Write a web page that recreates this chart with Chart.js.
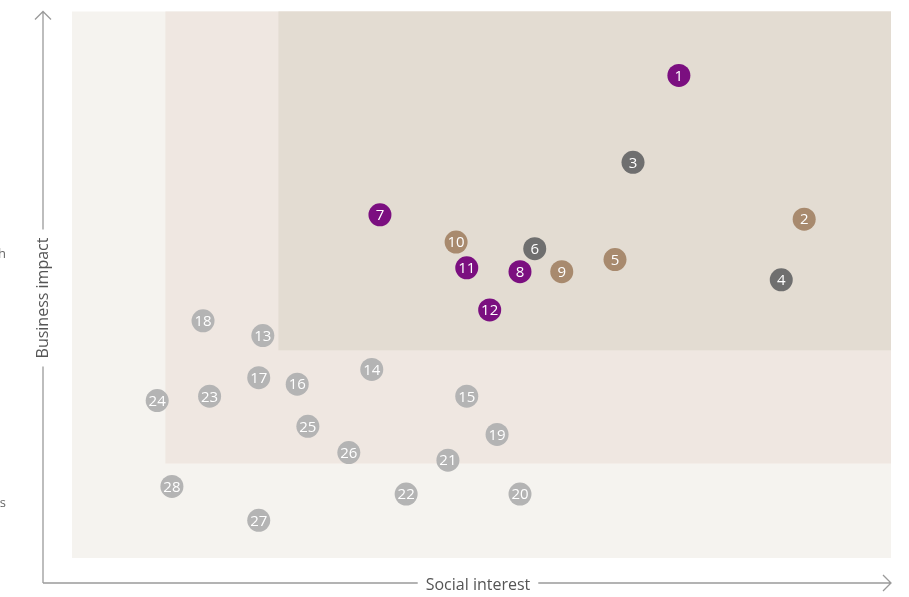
<!DOCTYPE html>
<html>
<head>
<meta charset="utf-8">
<script src="https://cdn.jsdelivr.net/npm/chart.js@4"></script>
<style>
  html, body { margin: 0; padding: 0; background: #ffffff; }
  #box { width: 909px; height: 597px; }
</style>
</head>
<body>
<div id="box"><canvas id="grafico"></canvas></div>
<script>
// temi per gruppo (x = social interest, y = business impact, 0-100)
const temiViola   = [1, 7, 8, 11, 12];
const xViola      = [74.1, 37.6, 54.7, 48.2, 51.0];
const yViola      = [88.3, 62.8, 52.4, 53.1, 45.4];

const temiMarrone = [2, 5, 9, 10];
const xMarrone    = [89.4, 66.3, 59.8, 46.9];
const yMarrone    = [62.0, 54.6, 52.4, 57.8];

const temiGrigio  = [3, 4, 6];
const xGrigio     = [68.5, 86.6, 56.5];
const yGrigio     = [72.4, 50.9, 56.6];

const temiChiari  = [13, 14, 15, 16, 17, 18, 19, 20, 21, 22, 23, 24, 25, 26, 27, 28];
const xChiari     = [23.3, 36.6, 48.2, 27.5, 22.8, 16.0, 51.9, 54.7, 45.9, 40.8, 16.8, 10.4, 28.8, 33.8, 22.8, 12.2];
const yChiari     = [40.7, 34.5, 29.6, 31.8, 33.0, 43.4, 22.6, 11.7, 17.9, 11.7, 29.6, 28.8, 24.1, 19.3, 6.9, 13.1];

// confini delle fasce di sfondo
const fasciaX = [11.4, 25.2];
const fasciaY = [17.3, 38.0];

const etichettaX = 'Social interest';
const etichettaY = 'Business impact';
const etichetteLato = ['High', 'Less'];

function punti(xs, ys, nomi) {
    return xs.map((x, i) => ({ x: x, y: ys[i], n: nomi[i] }));
}

function serie(nome, xs, ys, nomi, colore) {
    return {
        label: nome,
        data: punti(xs, ys, nomi),
        backgroundColor: colore,
        borderColor: colore,
        pointRadius: 11.5,
        pointHoverRadius: 11.5,
        borderWidth: 0,
        clip: false
    };
}

const sfondo = {
    id: 'sfondo',
    beforeDatasetsDraw(chart) {
        const { ctx, chartArea: a, scales: { x, y } } = chart;
        ctx.save();
        ctx.fillStyle = '#f5f3ef';
        ctx.fillRect(a.left, a.top, a.right - a.left, a.bottom - a.top);
        const x1 = x.getPixelForValue(fasciaX[0]);
        const y1 = y.getPixelForValue(fasciaY[0]);
        ctx.fillStyle = '#efe7e1';
        ctx.fillRect(x1, a.top, a.right - x1, y1 - a.top);
        const x2 = x.getPixelForValue(fasciaX[1]);
        const y2 = y.getPixelForValue(fasciaY[1]);
        ctx.fillStyle = '#e3dcd2';
        ctx.fillRect(x2, a.top, a.right - x2, y2 - a.top);
        ctx.restore();
    }
};

const assi = {
    id: 'assi',
    afterDraw(chart) {
        const { ctx, chartArea: a } = chart;
        const ax = 43, ay = 583;
        ctx.save();
        ctx.strokeStyle = '#9a9a9a';
        ctx.lineWidth = 1.3;
        ctx.fillStyle = '#555555';
        ctx.font = '16px "Open Sans", sans-serif';

        // asse verticale
        const cy = 298;
        const wy = ctx.measureText(etichettaY).width;
        ctx.beginPath();
        ctx.moveTo(ax, ay);
        ctx.lineTo(ax, cy + wy / 2 + 8);
        ctx.moveTo(ax, cy - wy / 2 - 8);
        ctx.lineTo(ax, a.top);
        ctx.moveTo(ax - 8, a.top + 8);
        ctx.lineTo(ax, a.top);
        ctx.lineTo(ax + 8, a.top + 8);
        ctx.stroke();
        ctx.save();
        ctx.translate(ax, cy);
        ctx.rotate(-Math.PI / 2);
        ctx.textAlign = 'center';
        ctx.textBaseline = 'middle';
        ctx.fillText(etichettaY, 0, 0);
        ctx.restore();

        // asse orizzontale
        const cx = 478;
        const wx = ctx.measureText(etichettaX).width;
        ctx.beginPath();
        ctx.moveTo(ax, ay);
        ctx.lineTo(cx - wx / 2 - 8, ay);
        ctx.moveTo(cx + wx / 2 + 8, ay);
        ctx.lineTo(a.right, ay);
        ctx.moveTo(a.right - 8, ay - 8);
        ctx.lineTo(a.right, ay);
        ctx.lineTo(a.right - 8, ay + 8);
        ctx.stroke();
        ctx.textAlign = 'center';
        ctx.textBaseline = 'middle';
        ctx.fillText(etichettaX, cx, ay + 2);

        // testi tagliati sul bordo sinistro
        ctx.font = '13px "Open Sans", sans-serif';
        ctx.fillStyle = '#666666';
        ctx.textAlign = 'right';
        ctx.textBaseline = 'alphabetic';
        ctx.fillText(etichetteLato[0], 6, 258);
        ctx.fillText(etichetteLato[1], 6, 507);
        ctx.restore();
    }
};

const numeri = {
    id: 'numeri',
    afterDatasetsDraw(chart) {
        const ctx = chart.ctx;
        ctx.save();
        ctx.fillStyle = '#ffffff';
        ctx.font = '15px "Open Sans", sans-serif';
        ctx.textAlign = 'center';
        ctx.textBaseline = 'middle';
        chart.data.datasets.forEach((ds, i) => {
            chart.getDatasetMeta(i).data.forEach((el, j) => {
                ctx.fillText(String(ds.data[j].n), el.x, el.y + 1);
            });
        });
        ctx.restore();
    }
};

new Chart(document.getElementById('grafico').getContext('2d'), {
    type: 'scatter',
    data: {
        datasets: [
            serie('Viola', xViola, yViola, temiViola, '#7b0f80'),
            serie('Marrone', xMarrone, yMarrone, temiMarrone, '#a88a6e'),
            serie('Grigio', xGrigio, yGrigio, temiGrigio, '#6f6f6f'),
            serie('Chiari', xChiari, yChiari, temiChiari, '#b4b4b4')
        ]
    },
    options: {
        responsive: true,
        maintainAspectRatio: false,
        animation: false,
        layout: { padding: { left: 72, right: 18, top: 10, bottom: 39 } },
        scales: {
            x: { type: 'linear', min: 0, max: 100, display: false },
            y: { type: 'linear', min: 0, max: 100, display: false }
        },
        plugins: {
            legend: { display: false },
            tooltip: { enabled: false }
        }
    },
    plugins: [sfondo, numeri, assi]
});
</script>
</body>
</html>
